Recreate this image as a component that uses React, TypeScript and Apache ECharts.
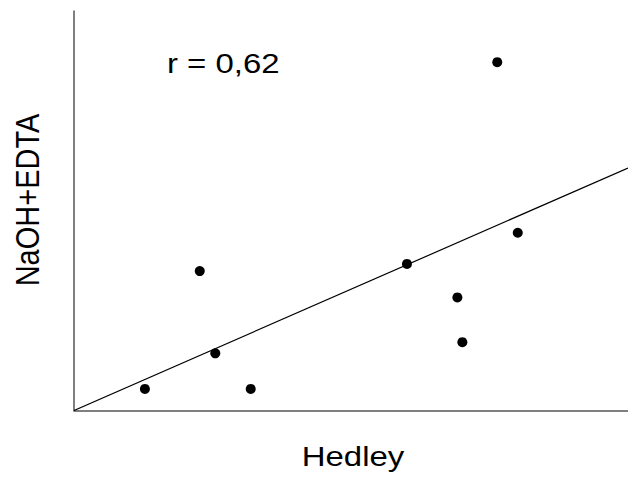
import React, { useEffect, useRef } from "react";
import * as echarts from "echarts";

const hedley = [12.8, 22.7, 25.5, 31.9, 60.1, 69.2, 70.1, 76.4, 80.1];
const naohEdta = [5.4, 34.9, 14.3, 5.4, 36.7, 28.3, 17.1, 87.2, 44.5];
const fitX = [0, 100];
const fitY = [0, 60.7];
const rLabel = "r = 0,62";
const xTitle = "Hedley";
const yTitle = "NaOH+EDTA";

export default function App() {
  const ref = useRef<HTMLDivElement>(null);
  useEffect(() => {
    document.body.style.margin = "0";
    const chart = echarts.init(ref.current!, null, { renderer: "svg" });
    const font = "Liberation Sans, Arial, Helvetica, sans-serif";
    chart.setOption({
      animation: false,
      backgroundColor: "#ffffff",
      grid: { left: 74, top: 11, right: 0, bottom: 69.5, outerBoundsMode: "none" },
      xAxis: {
        type: "value",
        min: 0,
        max: 100,
        axisLine: { show: true, onZero: false, lineStyle: { color: "#555", width: 1.5 } },
        axisTick: { show: false },
        axisLabel: { show: false },
        splitLine: { show: false },
      },
      yAxis: {
        type: "value",
        min: 0,
        max: 100,
        axisLine: { show: true, onZero: false, lineStyle: { color: "#555", width: 1.5 } },
        axisTick: { show: false },
        axisLabel: { show: false },
        splitLine: { show: false },
      },
      series: [
        {
          type: "line",
          data: fitX.map((x, i) => [x, fitY[i]]),
          symbol: "none",
          lineStyle: { color: "#000", width: 1.2 },
          silent: true,
        },
        {
          type: "scatter",
          data: hedley.map((x, i) => [x, naohEdta[i]]),
          symbol: "circle",
          symbolSize: 10,
          itemStyle: { color: "#000", opacity: 1 },
        },
      ],
      graphic: [
        {
          type: "text",
          x: 167,
          y: 64,
          scaleX: 1.22,
          style: {
            text: rLabel,
            fontFamily: font,
            fontSize: 27,
            fill: "#000",
            textAlign: "left",
            textVerticalAlign: "middle",
          },
        },
        {
          type: "text",
          x: 353,
          y: 457,
          scaleX: 1.22,
          style: {
            text: xTitle,
            fontFamily: font,
            fontSize: 27,
            fill: "#000",
            textAlign: "center",
            textVerticalAlign: "middle",
          },
        },
        {
          type: "text",
          x: 28,
          y: 200,
          rotation: Math.PI / 2,
          scaleY: 1.15,
          style: {
            text: yTitle,
            fontFamily: font,
            fontSize: 29,
            fill: "#000",
            textAlign: "center",
            textVerticalAlign: "middle",
          },
        },
      ],
    });
    return () => chart.dispose();
  }, []);
  return <div ref={ref} style={{ width: 628, height: 480 }} />;
}
